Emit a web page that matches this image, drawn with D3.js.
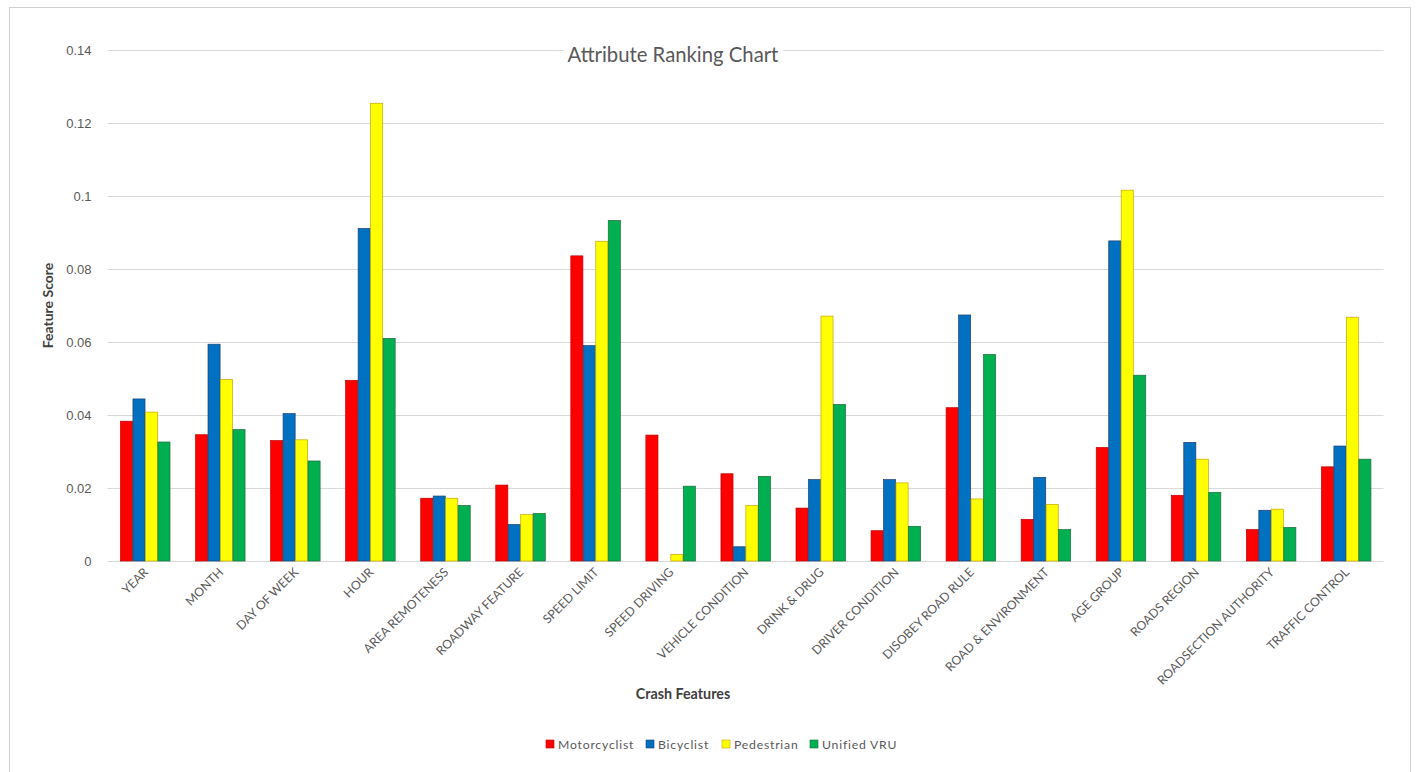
<!DOCTYPE html>
<html lang="en">
<head>
  <meta charset="UTF-8"/>
  <title>Attribute Ranking Chart</title>
  <style>
    * { box-sizing: border-box; margin: 0; padding: 0; }
    body { background: #fff; width: 1416px; height: 772px; overflow: hidden; font-family: Lato, "Open Sans", sans-serif; }
    svg { display: block; }
    .tick text { fill: #595959; font-size: 13px; }
    .grid line { stroke: #d9d9d9; stroke-width: 1px; }
  </style>
</head>
<body>
  <div id="chart"></div>

  <script src="https://cdn.jsdelivr.net/npm/d3@7/dist/d3.min.js"></script>
  <script>
    // --- data ---
    const categories = [
      'YEAR', 'MONTH', 'DAY OF WEEK', 'HOUR', 'AREA REMOTENESS', 'ROADWAY FEATURE',
      'SPEED LIMIT', 'SPEED DRIVING', 'VEHICLE CONDITION', 'DRINK & DRUG',
      'DRIVER CONDITION', 'DISOBEY ROAD RULE', 'ROAD & ENVIRONMENT', 'AGE GROUP',
      'ROADS REGION', 'ROADSECTION AUTHORITY', 'TRAFFIC CONTROL'
    ]
    const seriesNames = ['Motorcyclist', 'Bicyclist', 'Pedestrian', 'Unified VRU']

    const motorcyclist = [0.0383, 0.0346, 0.0330, 0.0495, 0.0172, 0.0208, 0.0836, 0.0345, 0.0239, 0.0145, 0.0083, 0.0420, 0.0114, 0.0311, 0.0180, 0.0086, 0.0258]
    const bicyclist    = [0.0444, 0.0594, 0.0404, 0.0911, 0.0178, 0.0100, 0.0590, 0.0000, 0.0039, 0.0223, 0.0223, 0.0674, 0.0229, 0.0877, 0.0325, 0.0139, 0.0315]
    const pedestrian   = [0.0408, 0.0497, 0.0332, 0.1254, 0.0172, 0.0127, 0.0876, 0.0018, 0.0152, 0.0671, 0.0214, 0.0170, 0.0155, 0.1016, 0.0279, 0.0142, 0.0668]
    const unifiedVRU   = [0.0326, 0.0360, 0.0274, 0.0610, 0.0152, 0.0130, 0.0933, 0.0205, 0.0232, 0.0429, 0.0095, 0.0566, 0.0086, 0.0509, 0.0188, 0.0092, 0.0279]

    const yTicks = [0, 0.02, 0.04, 0.06, 0.08, 0.1, 0.12, 0.14]

    const fills   = ['#ff0000', '#0070c0', '#ffff00', '#00b050']
    const strokes = ['#c00000', '#1f3f73', '#c9a400', '#1c6b3a']

    const seriesValues = [motorcyclist, bicyclist, pedestrian, unifiedVRU]
    const rows = categories.map((c, i) => ({
      name: c,
      values: seriesNames.map((s, k) => ({ series: s, k, value: seriesValues[k][i] }))
    }))

    // --- layout ---
    const W = 1416, H = 772
    const plot = { left: 107.5, right: 1383.5, top: 50, bottom: 561 }

    const svg = d3.select('#chart').append('svg')
      .attr('width', W).attr('height', H)

    // chart frame
    svg.append('rect')
      .attr('x', 9.5).attr('y', 7.5)
      .attr('width', 1401).attr('height', 780)
      .attr('fill', '#fff')
      .attr('stroke', '#d0d0d0').attr('stroke-width', 1)

    const y = d3.scaleLinear().domain([0, 0.14]).range([plot.bottom, plot.top])

    const x0 = d3.scaleBand()
      .domain(categories)
      .range([plot.left, plot.right])
      .paddingInner(0.335)
      .paddingOuter(0.1675)

    const x1 = d3.scaleBand()
      .domain(seriesNames)
      .range([0, x0.bandwidth()])

    // gridlines
    svg.append('g')
      .attr('class', 'grid')
      .selectAll('line')
      .data(yTicks)
      .join('line')
        .attr('x1', plot.left).attr('x2', plot.right)
        .attr('y1', d => Math.round(y(d)) + 0.5)
        .attr('y2', d => Math.round(y(d)) + 0.5)

    // y axis labels
    const yAxis = svg.append('g')
      .attr('transform', `translate(${plot.left - 13},0)`)
      .call(d3.axisLeft(y).tickValues(yTicks).tickSize(0).tickFormat(d => d === 0 ? '0' : String(+d.toFixed(2))))
    yAxis.select('.domain').remove()
    yAxis.selectAll('text').attr('dy', '0.35em')

    // bars
    svg.append('g')
      .selectAll('g')
      .data(rows)
      .join('g')
        .attr('transform', d => `translate(${x0(d.name)},0)`)
      .selectAll('rect')
      .data(d => d.values.filter(v => v.value > 0))
      .join('rect')
        .attr('x', d => x1(d.series) + 0.4)
        .attr('y', d => y(d.value))
        .attr('width', x1.bandwidth() - 0.4)
        .attr('height', d => plot.bottom - y(d.value))
        .attr('fill', d => fills[d.k])
        .attr('stroke', d => strokes[d.k])
        .attr('stroke-width', 0.7)

    // x labels, rotated
    svg.append('g')
      .selectAll('text')
      .data(categories)
      .join('text')
        .attr('transform', d => `translate(${x0(d) + x0.bandwidth() / 2 + 4},${plot.bottom + 12}) rotate(-45)`)
        .attr('text-anchor', 'end')
        .attr('font-size', 12.3)
        .attr('fill', '#595959')
        .text(d => d)

    // title with white box over gridline
    const title = svg.append('g')
    const titleText = title.append('text')
      .attr('x', 673).attr('y', 62)
      .attr('text-anchor', 'middle')
      .attr('font-size', 20.3)
      .attr('fill', '#595959')
      .text('Attribute Ranking Chart')
    const bb = titleText.node().getBBox()
    title.insert('rect', 'text')
      .attr('x', bb.x - 4).attr('y', bb.y)
      .attr('width', bb.width + 8).attr('height', bb.height)
      .attr('fill', '#fff')

    // axis titles
    svg.append('text')
      .attr('transform', `translate(53,${(plot.top + plot.bottom) / 2}) rotate(-90)`)
      .attr('text-anchor', 'middle')
      .attr('font-size', 14)
      .attr('font-weight', 700)
      .attr('fill', '#404040')
      .text('Feature Score')

    svg.append('text')
      .attr('x', 683).attr('y', 699)
      .attr('text-anchor', 'middle')
      .attr('font-size', 14.3)
      .attr('font-weight', 700)
      .attr('fill', '#404040')
      .text('Crash Features')

    // legend
    const legendX = [546, 646, 722, 810]
    const legend = svg.append('g')
      .selectAll('g')
      .data(seriesNames)
      .join('g')
        .attr('transform', (d, i) => `translate(${legendX[i]},740)`)
    legend.append('rect')
      .attr('width', 8).attr('height', 8)
      .attr('fill', (d, i) => fills[i])
      .attr('stroke', (d, i) => strokes[i]).attr('stroke-width', 0.6)
    legend.append('text')
      .attr('x', 12).attr('y', 8.5)
      .attr('font-size', 12.2)
      .attr('letter-spacing', 0.8)
      .attr('fill', '#595959')
      .text(d => d)
  </script>
</body>
</html>
